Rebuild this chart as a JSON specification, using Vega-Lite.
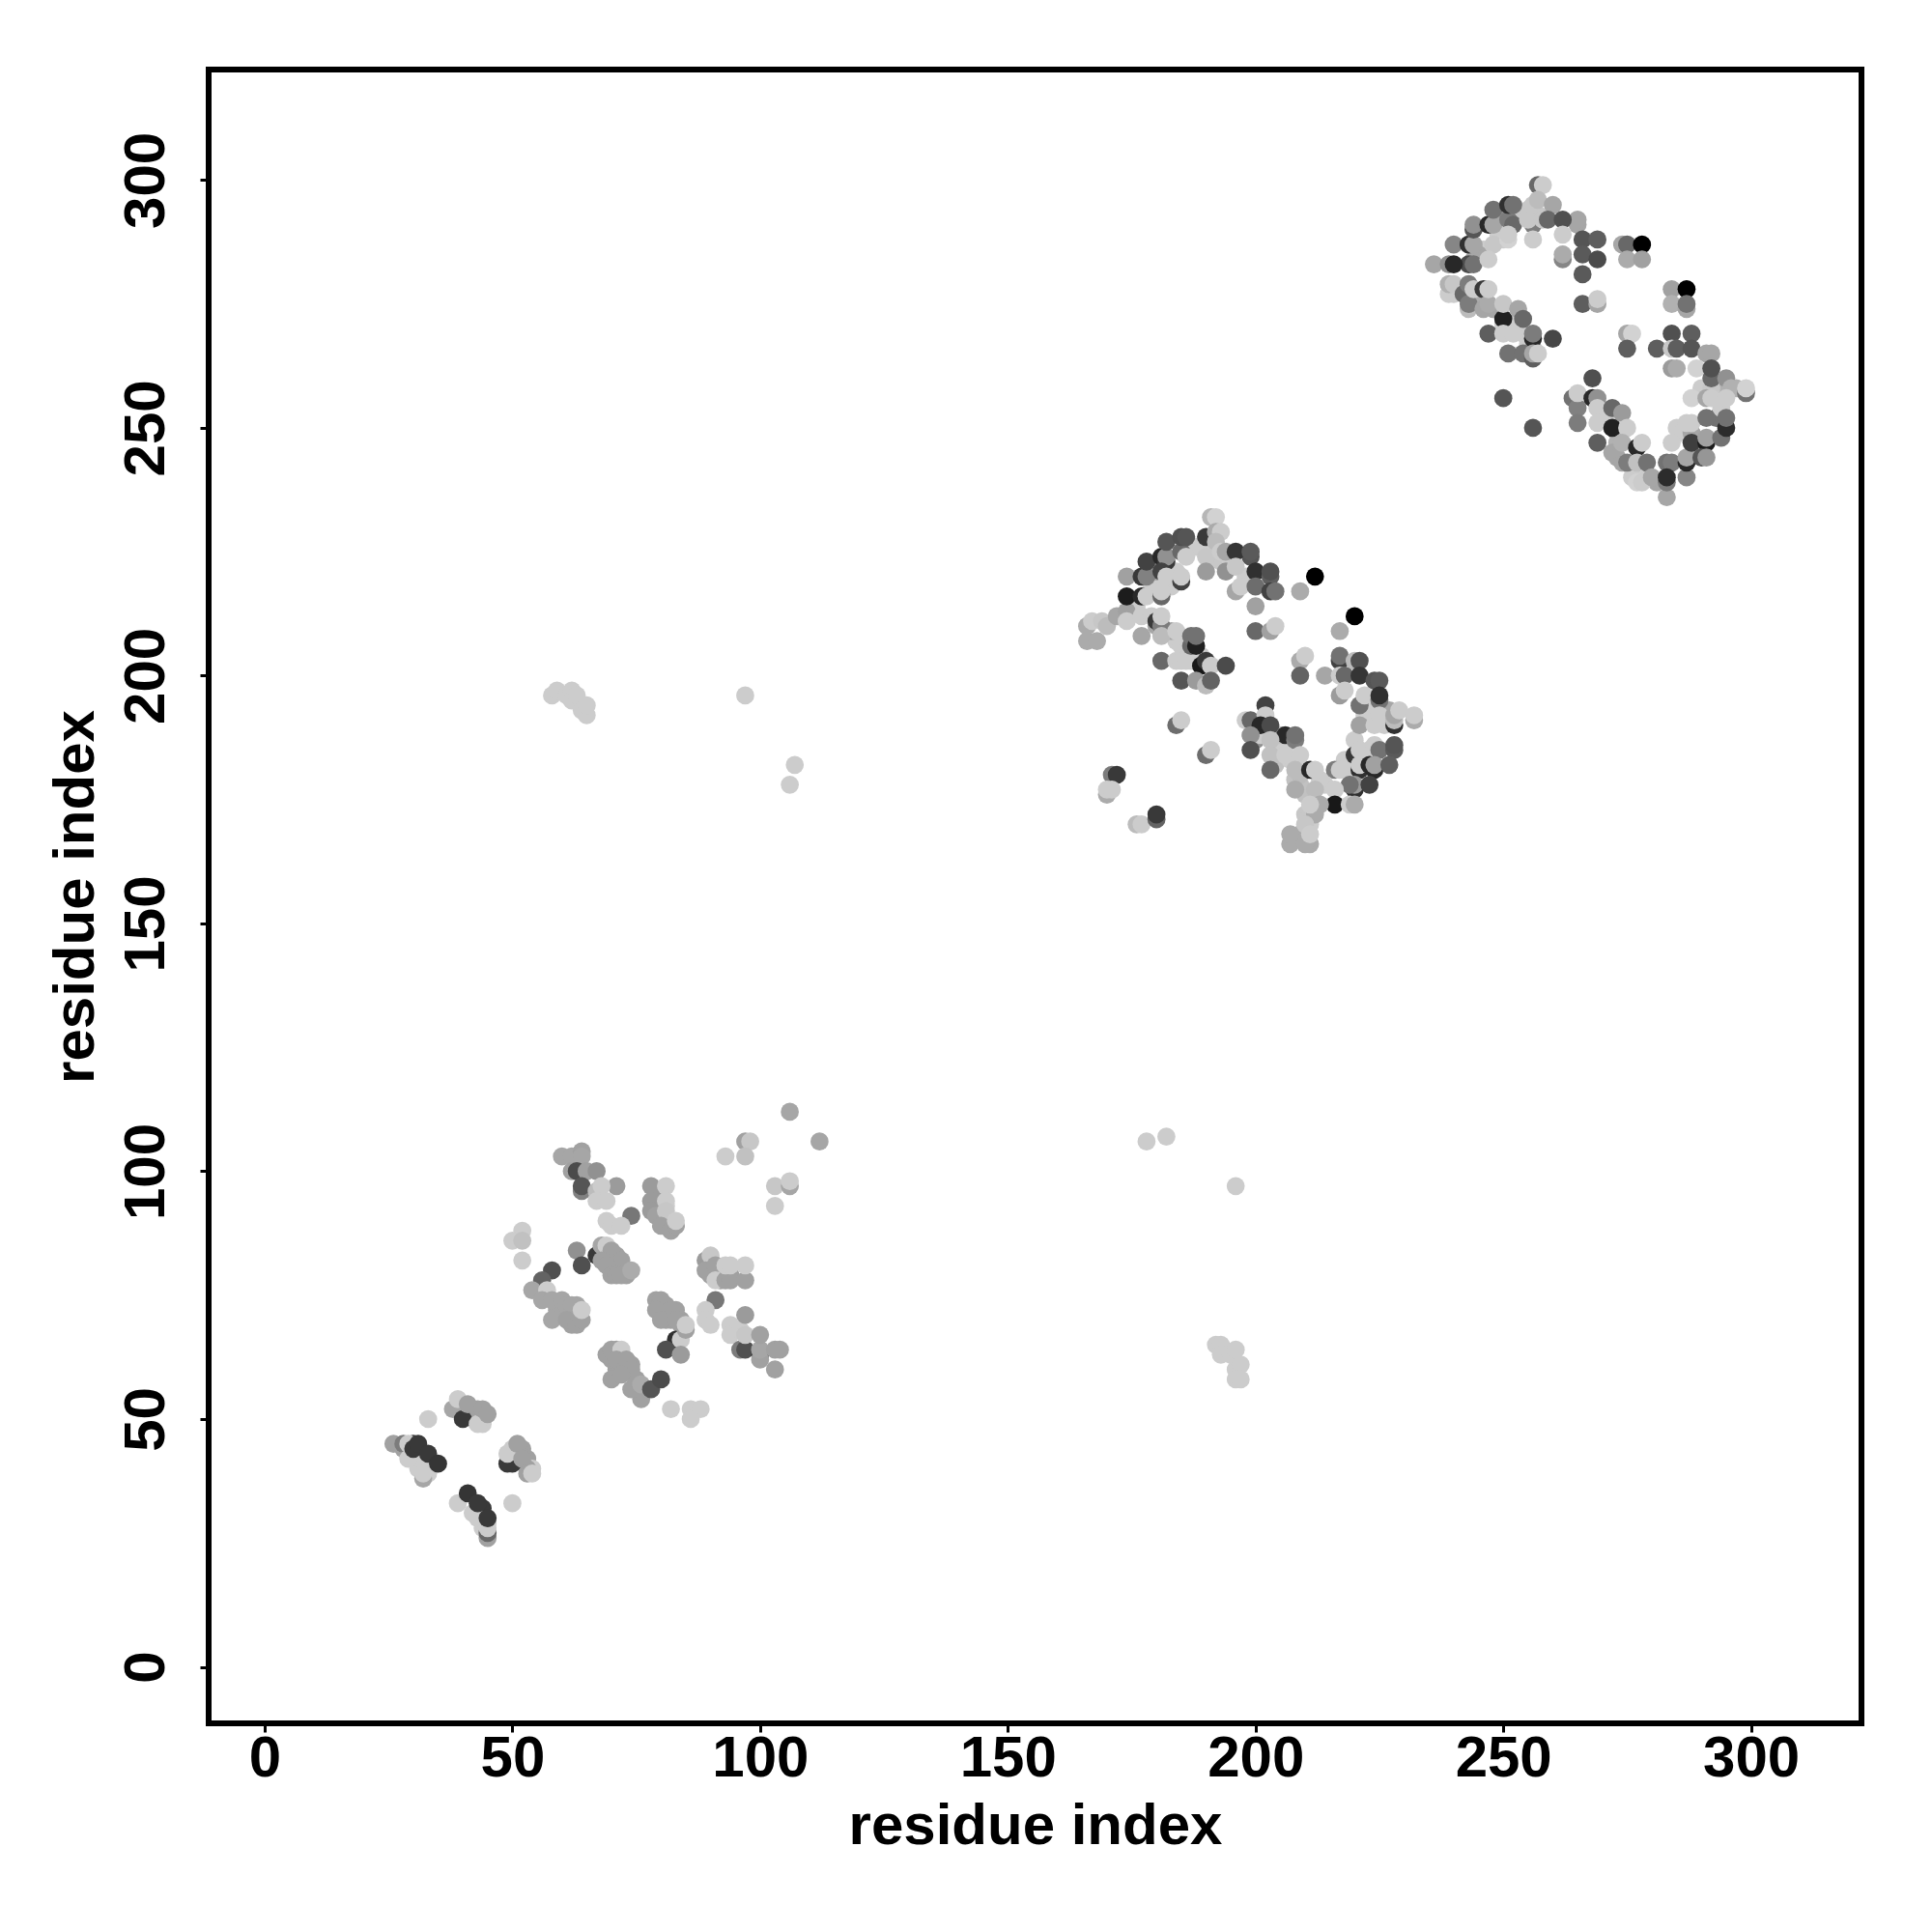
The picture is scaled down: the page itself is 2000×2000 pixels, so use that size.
{"$schema":"https://vega.github.io/schema/vega-lite/v6.json","width":1711,"height":1712,"autosize":"none","padding":{"left":216,"top":72,"right":73,"bottom":216},"background":"white","view":{"stroke":"black","strokeWidth":6,"fill":"white"},"config":{"font":"Liberation Sans"},
"data":{"values":[
{"x":39,"y":53,"g":205},{"x":40,"y":53,"g":205},{"x":39,"y":52,"g":170},{"x":41,"y":51,"g":205},{"x":42,"y":50,"g":205},{"x":43,"y":50,"g":205},{"x":44,"y":49,"g":205},{"x":42,"y":52,"g":165},{"x":43,"y":52,"g":165},
{"x":42,"y":31,"g":205},{"x":44,"y":29,"g":205},{"x":44,"y":31,"g":205},{"x":44,"y":32,"g":60},{"x":45,"y":29,"g":205},{"x":44,"y":28,"g":205},
{"x":29,"y":44,"g":205},{"x":30,"y":42,"g":205},{"x":31,"y":41,"g":205},{"x":31,"y":40,"g":205},{"x":33,"y":39,"g":205},{"x":32,"y":41,"g":205},{"x":28,"y":44,"g":165},{"x":30,"y":45,"g":60},
{"x":50,"y":44,"g":205},{"x":51,"y":43,"g":205},{"x":52,"y":44,"g":165},{"x":52,"y":43,"g":165},{"x":53,"y":41,"g":165},{"x":53,"y":42,"g":165},{"x":54,"y":40,"g":205},{"x":53,"y":40,"g":165},{"x":50,"y":42,"g":205},{"x":50,"y":41,"g":60},
{"x":79,"y":93,"g":165},{"x":79,"y":95,"g":160},{"x":80,"y":91,"g":165},{"x":81,"y":90,"g":165},{"x":82,"y":89,"g":165},{"x":80,"y":93,"g":205},{"x":81,"y":93,"g":205},{"x":81,"y":91,"g":165},
{"x":71,"y":60,"g":165},{"x":72,"y":61,"g":165},{"x":73,"y":60,"g":165},{"x":72,"y":63,"g":165},{"x":71,"y":64,"g":165},{"x":70,"y":62,"g":165},{"x":74,"y":61,"g":165},{"x":75,"y":58,"g":165},{"x":75,"y":56,"g":165},
{"x":81,"y":73,"g":165},{"x":81,"y":71,"g":165},{"x":82,"y":70,"g":165},{"x":84,"y":70,"g":165},{"x":84,"y":69,"g":165},{"x":81,"y":70,"g":165},{"x":83,"y":72,"g":165},
{"x":69,"y":83,"g":165},{"x":70,"y":82,"g":165},{"x":71,"y":83,"g":165},{"x":72,"y":81,"g":165},{"x":73,"y":80,"g":165},{"x":73,"y":79,"g":165},{"x":70,"y":81,"g":165},{"x":71,"y":81,"g":165},
{"x":59,"y":72,"g":170},{"x":60,"y":71,"g":170},{"x":62,"y":72,"g":170},{"x":63,"y":71,"g":170},{"x":61,"y":72,"g":170},{"x":62,"y":69,"g":165},{"x":63,"y":73,"g":170},{"x":59,"y":73,"g":170},
{"x":92,"y":78,"g":165},{"x":92,"y":80,"g":205},{"x":90,"y":79,"g":165},{"x":92,"y":79,"g":165},{"x":94,"y":79,"g":165},
{"x":204,"y":187,"g":195},{"x":204,"y":184,"g":205},{"x":205,"y":186,"g":205},{"x":204,"y":182,"g":195},{"x":208,"y":179,"g":195},{"x":209,"y":178,"g":195},{"x":210,"y":176,"g":195},{"x":209,"y":180,"g":190},{"x":210,"y":172,"g":200},{"x":211,"y":172,"g":200},{"x":211,"y":170,"g":205},{"x":211,"y":166,"g":175},{"x":209,"y":168,"g":175},
{"x":240,"y":277,"g":205},{"x":241,"y":278,"g":190},{"x":244,"y":276,"g":170},{"x":245,"y":275,"g":175},{"x":248,"y":274,"g":170},{"x":250,"y":271,"g":205},{"x":252,"y":271,"g":205},{"x":253,"y":270,"g":205},{"x":254,"y":269,"g":205},{"x":255,"y":267,"g":205},{"x":256,"y":266,"g":170},{"x":273,"y":247,"g":180},{"x":273,"y":249,"g":180},{"x":271,"y":252,"g":205},{"x":270,"y":253,"g":205},{"x":272,"y":245,"g":170},{"x":273,"y":244,"g":170},{"x":276,"y":242,"g":195},{"x":276,"y":240,"g":205},{"x":279,"y":240,"g":205},{"x":281,"y":239,"g":170},{"x":249,"y":289,"g":205},{"x":250,"y":288,"g":205},{"x":246,"y":286,"g":205},{"x":245,"y":285,"g":170},{"x":244,"y":284,"g":170},{"x":249,"y":293,"g":170},{"x":253,"y":293,"g":130},{"x":254,"y":293,"g":200},{"x":255,"y":294,"g":200},{"x":257,"y":293,"g":200},{"x":285,"y":250,"g":205},{"x":286,"y":249,"g":205},{"x":288,"y":249,"g":170},{"x":289,"y":246,"g":170},{"x":293,"y":252,"g":120},{"x":294,"y":254,"g":205},{"x":293,"y":256,"g":205},{"x":290,"y":258,"g":205},{"x":290,"y":257,"g":205},{"x":294,"y":257,"g":180},{"x":297,"y":258,"g":180},{"x":295,"y":258,"g":180},
{"x":187,"y":203,"g":205},{"x":188,"y":204,"g":205},{"x":189,"y":204,"g":205},{"x":184,"y":207,"g":205},{"x":185,"y":206,"g":205},{"x":186,"y":205,"g":205},{"x":183,"y":209,"g":170},{"x":180,"y":210,"g":170},{"x":176,"y":214,"g":205},{"x":175,"y":215,"g":205},{"x":179,"y":218,"g":205},{"x":180,"y":218,"g":205},{"x":183,"y":218,"g":205},{"x":184,"y":221,"g":205},{"x":180,"y":221,"g":170},{"x":188,"y":226,"g":205},{"x":191,"y":225,"g":205},{"x":192,"y":224,"g":200},{"x":193,"y":223,"g":200},{"x":195,"y":223,"g":205},{"x":198,"y":219,"g":205},{"x":198,"y":220,"g":205},{"x":220,"y":187,"g":205},{"x":222,"y":184,"g":205},{"x":223,"y":185,"g":205},{"x":219,"y":181,"g":205},{"x":218,"y":183,"g":205},{"x":226,"y":192,"g":205},{"x":227,"y":191,"g":205},{"x":226,"y":190,"g":205},{"x":227,"y":193,"g":170},{"x":223,"y":193,"g":205},{"x":222,"y":192,"g":205},{"x":214,"y":178,"g":205},{"x":213,"y":179,"g":205},{"x":206,"y":186,"g":205},{"x":207,"y":183,"g":205},{"x":200,"y":187,"g":150},{"x":201,"y":188,"g":205},{"x":200,"y":190,"g":205},{"x":204,"y":188,"g":195},{"x":205,"y":188,"g":195},
{"x":236,"y":283,"g":170},{"x":239,"y":283,"g":150},{"x":243,"y":283,"g":80},{"x":244,"y":283,"g":120},{"x":240,"y":283,"g":40},{"x":240,"y":287,"g":140},{"x":243,"y":287,"g":50},{"x":244,"y":287,"g":170},{"x":244,"y":290,"g":90},{"x":244,"y":291,"g":150},{"x":247,"y":291,"g":40},{"x":248,"y":291,"g":170},{"x":248,"y":294,"g":120},{"x":251,"y":292,"g":130},{"x":252,"y":291,"g":110},{"x":251,"y":295,"g":50},{"x":252,"y":295,"g":120},{"x":248,"y":287,"g":200},{"x":251,"y":288,"g":210},{"x":251,"y":289,"g":205},{"x":247,"y":284,"g":205},
{"x":257,"y":299,"g":110},{"x":258,"y":299,"g":205},{"x":256,"y":291,"g":130},{"x":256,"y":288,"g":205},{"x":255,"y":292,"g":200},{"x":256,"y":295,"g":200},{"x":257,"y":296,"g":190},{"x":260,"y":295,"g":170},{"x":258,"y":292,"g":200},{"x":259,"y":292,"g":110},{"x":265,"y":291,"g":170},{"x":265,"y":292,"g":170},{"x":262,"y":292,"g":85},{"x":262,"y":289,"g":205},{"x":262,"y":284,"g":140},{"x":262,"y":285,"g":175},{"x":266,"y":288,"g":90},{"x":269,"y":288,"g":100},{"x":266,"y":281,"g":95},{"x":266,"y":285,"g":95},{"x":269,"y":284,"g":80},{"x":266,"y":275,"g":100},{"x":269,"y":275,"g":170},{"x":269,"y":276,"g":205},
{"x":274,"y":287,"g":170},{"x":275,"y":287,"g":110},{"x":278,"y":287,"g":0},{"x":275,"y":284,"g":175},{"x":278,"y":284,"g":165},{"x":284,"y":278,"g":165},{"x":287,"y":278,"g":0},{"x":284,"y":275,"g":180},{"x":287,"y":274,"g":170},{"x":287,"y":275,"g":120},{"x":275,"y":269,"g":170},{"x":276,"y":269,"g":210},{"x":275,"y":266,"g":100},{"x":284,"y":269,"g":85},{"x":288,"y":269,"g":100},{"x":281,"y":266,"g":100},{"x":284,"y":266,"g":200},{"x":285,"y":266,"g":100},{"x":288,"y":266,"g":90},{"x":291,"y":265,"g":170},{"x":292,"y":265,"g":170},{"x":284,"y":262,"g":160},{"x":285,"y":262,"g":175},{"x":289,"y":262,"g":210},{"x":292,"y":258,"g":200},{"x":292,"y":260,"g":110},{"x":292,"y":262,"g":85},{"x":295,"y":260,"g":150},{"x":296,"y":258,"g":180},{"x":299,"y":257,"g":120},{"x":299,"y":258,"g":210},{"x":288,"y":256,"g":210},{"x":291,"y":256,"g":170},{"x":292,"y":256,"g":205},{"x":295,"y":256,"g":205},
{"x":268,"y":260,"g":85},{"x":264,"y":256,"g":120},{"x":265,"y":254,"g":135},{"x":265,"y":257,"g":205},{"x":268,"y":256,"g":40},{"x":269,"y":256,"g":150},{"x":265,"y":251,"g":130},{"x":269,"y":254,"g":205},{"x":269,"y":251,"g":205},{"x":272,"y":254,"g":110},{"x":274,"y":253,"g":160},{"x":272,"y":250,"g":30},{"x":275,"y":250,"g":205},{"x":269,"y":247,"g":100},{"x":274,"y":247,"g":180},{"x":277,"y":246,"g":40},{"x":278,"y":247,"g":205},{"x":274,"y":243,"g":170},{"x":275,"y":243,"g":130},{"x":277,"y":243,"g":195},{"x":279,"y":243,"g":120},{"x":277,"y":239,"g":210},{"x":278,"y":239,"g":205},{"x":280,"y":240,"g":170},{"x":283,"y":236,"g":170},{"x":283,"y":243,"g":120},{"x":284,"y":243,"g":130},{"x":284,"y":247,"g":205},{"x":283,"y":239,"g":130},{"x":283,"y":240,"g":45},{"x":287,"y":240,"g":140},{"x":287,"y":243,"g":40},{"x":287,"y":244,"g":170},{"x":288,"y":247,"g":65},{"x":291,"y":247,"g":25},{"x":291,"y":248,"g":165},{"x":290,"y":244,"g":90},{"x":291,"y":244,"g":155},{"x":294,"y":248,"g":120},{"x":287,"y":251,"g":205},{"x":288,"y":251,"g":205},{"x":291,"y":252,"g":120},{"x":295,"y":250,"g":45},{"x":295,"y":252,"g":120},
{"x":239,"y":277,"g":205},{"x":239,"y":279,"g":180},{"x":240,"y":279,"g":200},{"x":242,"y":277,"g":110},{"x":243,"y":279,"g":130},{"x":243,"y":274,"g":190},{"x":243,"y":275,"g":130},{"x":244,"y":278,"g":205},{"x":246,"y":278,"g":60},{"x":246,"y":274,"g":170},{"x":247,"y":275,"g":175},{"x":247,"y":278,"g":205},{"x":250,"y":272,"g":30},{"x":250,"y":275,"g":200},{"x":253,"y":274,"g":170},{"x":254,"y":272,"g":110},{"x":247,"y":269,"g":100},{"x":250,"y":269,"g":205},{"x":252,"y":269,"g":205},{"x":256,"y":268,"g":40},{"x":256,"y":269,"g":130},{"x":260,"y":268,"g":75},{"x":251,"y":265,"g":120},{"x":254,"y":265,"g":120},{"x":256,"y":264,"g":100},{"x":256,"y":265,"g":170},{"x":257,"y":265,"g":205},{"x":250,"y":256,"g":90},{"x":256,"y":250,"g":90},
{"x":191,"y":232,"g":185},{"x":192,"y":232,"g":210},{"x":190,"y":228,"g":60},{"x":192,"y":229,"g":175},{"x":193,"y":229,"g":205},{"x":192,"y":227,"g":190},{"x":190,"y":224,"g":200},{"x":193,"y":225,"g":205},{"x":194,"y":225,"g":170},{"x":199,"y":224,"g":90},{"x":196,"y":225,"g":55},{"x":199,"y":225,"g":95},{"x":190,"y":221,"g":160},{"x":194,"y":221,"g":150},{"x":196,"y":222,"g":200},{"x":200,"y":221,"g":50},{"x":203,"y":220,"g":100},{"x":203,"y":221,"g":85},{"x":196,"y":217,"g":170},{"x":197,"y":218,"g":205},{"x":200,"y":218,"g":115},{"x":203,"y":217,"g":70},{"x":204,"y":217,"g":120},{"x":200,"y":214,"g":165},{"x":209,"y":217,"g":175},{"x":212,"y":220,"g":0},{"x":200,"y":209,"g":110},{"x":203,"y":209,"g":165},{"x":204,"y":210,"g":205},
{"x":217,"y":209,"g":175},{"x":220,"y":212,"g":0},{"x":209,"y":203,"g":175},{"x":210,"y":204,"g":205},{"x":209,"y":200,"g":105},{"x":217,"y":203,"g":70},{"x":217,"y":204,"g":120},{"x":220,"y":203,"g":190},{"x":221,"y":203,"g":85},{"x":214,"y":200,"g":170},{"x":217,"y":200,"g":205},{"x":218,"y":200,"g":110},{"x":221,"y":200,"g":55},{"x":224,"y":199,"g":90},{"x":225,"y":199,"g":95},{"x":217,"y":196,"g":160},{"x":218,"y":197,"g":205},{"x":221,"y":194,"g":120},{"x":222,"y":196,"g":205},{"x":225,"y":195,"g":120},{"x":225,"y":196,"g":50},{"x":221,"y":190,"g":165},{"x":224,"y":190,"g":205},{"x":225,"y":192,"g":205},{"x":228,"y":190,"g":50},{"x":228,"y":191,"g":190},{"x":228,"y":192,"g":170},{"x":229,"y":193,"g":205},{"x":232,"y":191,"g":175},{"x":232,"y":192,"g":205},
{"x":202,"y":194,"g":70},{"x":198,"y":191,"g":205},{"x":199,"y":191,"g":110},{"x":202,"y":192,"g":205},{"x":201,"y":190,"g":40},{"x":203,"y":190,"g":80},{"x":199,"y":188,"g":150},{"x":199,"y":185,"g":85},{"x":206,"y":188,"g":40},{"x":208,"y":187,"g":130},{"x":208,"y":188,"g":120},{"x":203,"y":187,"g":195},{"x":203,"y":184,"g":195},{"x":206,"y":184,"g":205},{"x":209,"y":184,"g":205},{"x":203,"y":181,"g":110},{"x":208,"y":181,"g":190},{"x":211,"y":181,"g":40},{"x":212,"y":181,"g":205},{"x":208,"y":177,"g":175},{"x":212,"y":177,"g":190},{"x":216,"y":181,"g":130},{"x":217,"y":181,"g":205},{"x":220,"y":184,"g":60},{"x":221,"y":185,"g":205},{"x":224,"y":186,"g":205},{"x":225,"y":185,"g":120},{"x":228,"y":185,"g":95},{"x":228,"y":186,"g":90},{"x":221,"y":181,"g":50},{"x":221,"y":182,"g":205},{"x":224,"y":181,"g":40},{"x":223,"y":182,"g":40},{"x":224,"y":182,"g":165},{"x":227,"y":182,"g":100},{"x":220,"y":177,"g":50},{"x":220,"y":178,"g":160},{"x":223,"y":178,"g":70},{"x":219,"y":178,"g":120},{"x":216,"y":177,"g":205},{"x":216,"y":174,"g":20},{"x":219,"y":174,"g":205},{"x":220,"y":174,"g":175},{"x":213,"y":174,"g":175},{"x":212,"y":172,"g":175},{"x":211,"y":174,"g":205},{"x":210,"y":170,"g":200},{"x":207,"y":166,"g":175},{"x":207,"y":168,"g":175},{"x":210,"y":166,"g":175},{"x":211,"y":168,"g":205},
{"x":166,"y":207,"g":175},{"x":168,"y":207,"g":175},{"x":166,"y":210,"g":175},{"x":167,"y":211,"g":205},{"x":169,"y":211,"g":200},{"x":170,"y":210,"g":190},{"x":172,"y":212,"g":170},{"x":174,"y":213,"g":165},{"x":174,"y":211,"g":205},{"x":174,"y":216,"g":25},{"x":174,"y":220,"g":165},{"x":177,"y":208,"g":170},{"x":177,"y":212,"g":205},{"x":177,"y":216,"g":40},{"x":178,"y":216,"g":205},{"x":177,"y":220,"g":60},{"x":178,"y":220,"g":135},{"x":178,"y":223,"g":70},{"x":181,"y":224,"g":40},{"x":182,"y":223,"g":60},{"x":182,"y":224,"g":150},{"x":181,"y":221,"g":70},{"x":182,"y":220,"g":205},{"x":185,"y":219,"g":70},{"x":185,"y":220,"g":205},{"x":185,"y":225,"g":110},{"x":186,"y":224,"g":205},{"x":182,"y":227,"g":90},{"x":185,"y":228,"g":85},{"x":186,"y":228,"g":90},{"x":181,"y":216,"g":110},{"x":181,"y":217,"g":205},
{"x":179,"y":212,"g":205},{"x":180,"y":211,"g":60},{"x":181,"y":210,"g":130},{"x":181,"y":212,"g":205},{"x":181,"y":208,"g":190},{"x":181,"y":203,"g":110},{"x":184,"y":209,"g":205},{"x":184,"y":203,"g":205},{"x":185,"y":203,"g":205},{"x":186,"y":203,"g":205},{"x":187,"y":206,"g":110},{"x":187,"y":208,"g":120},{"x":188,"y":206,"g":30},{"x":188,"y":208,"g":120},{"x":189,"y":202,"g":20},{"x":190,"y":203,"g":60},{"x":191,"y":202,"g":205},{"x":194,"y":202,"g":80},{"x":185,"y":199,"g":90},{"x":188,"y":199,"g":160},{"x":190,"y":198,"g":190},{"x":191,"y":199,"g":105},{"x":184,"y":190,"g":115},{"x":185,"y":191,"g":205},{"x":190,"y":184,"g":115},{"x":191,"y":185,"g":205},{"x":171,"y":180,"g":130},{"x":172,"y":180,"g":60},{"x":170,"y":176,"g":175},{"x":170,"y":177,"g":205},{"x":171,"y":177,"g":205},{"x":176,"y":170,"g":190},{"x":177,"y":170,"g":205},{"x":180,"y":171,"g":105},{"x":180,"y":172,"g":60},
{"x":106,"y":112,"g":170},{"x":112,"y":106,"g":170},{"x":97,"y":106,"g":165},{"x":98,"y":106,"g":200},{"x":93,"y":103,"g":205},{"x":97,"y":103,"g":195},{"x":103,"y":97,"g":200},{"x":106,"y":97,"g":170},{"x":106,"y":98,"g":205},{"x":103,"y":93,"g":205},
{"x":60,"y":103,"g":170},{"x":62,"y":103,"g":170},{"x":64,"y":104,"g":165},{"x":64,"y":103,"g":170},{"x":62,"y":100,"g":165},{"x":63,"y":100,"g":80},{"x":65,"y":100,"g":165},{"x":67,"y":100,"g":150},{"x":64,"y":96,"g":135},{"x":64,"y":97,"g":90},{"x":71,"y":97,"g":160},{"x":67,"y":96,"g":190},{"x":68,"y":97,"g":205},{"x":67,"y":94,"g":205},{"x":69,"y":94,"g":205},{"x":74,"y":91,"g":125},{"x":69,"y":90,"g":205},{"x":70,"y":89,"g":205},{"x":72,"y":89,"g":205},
{"x":78,"y":97,"g":160},{"x":81,"y":97,"g":205},{"x":78,"y":94,"g":160},{"x":81,"y":94,"g":205},{"x":78,"y":92,"g":160},{"x":79,"y":91,"g":165},{"x":81,"y":92,"g":200},{"x":80,"y":89,"g":165},{"x":82,"y":88,"g":165},{"x":83,"y":89,"g":165},{"x":83,"y":90,"g":205},
{"x":52,"y":88,"g":205},{"x":50,"y":86,"g":205},{"x":52,"y":86,"g":195},{"x":52,"y":82,"g":205},
{"x":63,"y":84,"g":150},{"x":67,"y":83,"g":60},{"x":68,"y":85,"g":170},{"x":69,"y":85,"g":205},{"x":70,"y":84,"g":165},{"x":68,"y":82,"g":165},{"x":72,"y":82,"g":165},{"x":69,"y":81,"g":165},{"x":70,"y":79,"g":165},{"x":71,"y":79,"g":165},{"x":72,"y":79,"g":165},{"x":74,"y":80,"g":175},{"x":64,"y":81,"g":85},
{"x":58,"y":80,"g":85},{"x":56,"y":78,"g":105},{"x":54,"y":76,"g":170},{"x":57,"y":76,"g":205},{"x":56,"y":74,"g":170},{"x":58,"y":74,"g":170},{"x":60,"y":74,"g":170},{"x":61,"y":73,"g":170},{"x":62,"y":73,"g":170},{"x":58,"y":70,"g":170},{"x":61,"y":70,"g":165},{"x":63,"y":69,"g":165},{"x":64,"y":70,"g":165},{"x":64,"y":72,"g":205},
{"x":89,"y":82,"g":160},{"x":90,"y":83,"g":200},{"x":89,"y":80,"g":165},{"x":91,"y":81,"g":165},{"x":91,"y":78,"g":205},{"x":93,"y":78,"g":165},{"x":94,"y":78,"g":165},{"x":97,"y":78,"g":165},{"x":93,"y":81,"g":205},{"x":94,"y":81,"g":205},{"x":97,"y":81,"g":205},
{"x":91,"y":74,"g":125},{"x":89,"y":72,"g":205},{"x":89,"y":70,"g":205},{"x":90,"y":69,"g":205},{"x":94,"y":69,"g":205},{"x":94,"y":67,"g":205},{"x":96,"y":64,"g":130},{"x":97,"y":64,"g":85},{"x":96,"y":68,"g":205},{"x":97,"y":67,"g":200},{"x":97,"y":71,"g":160},{"x":100,"y":63,"g":70},{"x":100,"y":62,"g":165},{"x":100,"y":64,"g":170},{"x":100,"y":67,"g":165},{"x":103,"y":60,"g":165},{"x":103,"y":64,"g":165},{"x":104,"y":64,"g":165},
{"x":79,"y":74,"g":165},{"x":80,"y":74,"g":165},{"x":79,"y":72,"g":165},{"x":82,"y":72,"g":165},{"x":80,"y":70,"g":165},{"x":83,"y":70,"g":165},{"x":83,"y":66,"g":50},{"x":84,"y":66,"g":205},{"x":85,"y":68,"g":165},{"x":85,"y":69,"g":205},{"x":81,"y":64,"g":85},{"x":84,"y":63,"g":160},
{"x":69,"y":63,"g":165},{"x":70,"y":64,"g":165},{"x":72,"y":64,"g":205},{"x":71,"y":62,"g":165},{"x":73,"y":62,"g":165},{"x":74,"y":60,"g":165},{"x":70,"y":58,"g":165},{"x":72,"y":59,"g":165},{"x":76,"y":54,"g":165},{"x":74,"y":56,"g":165},{"x":76,"y":57,"g":175},{"x":78,"y":56,"g":90},{"x":80,"y":58,"g":80},{"x":82,"y":52,"g":205},{"x":86,"y":52,"g":205},{"x":88,"y":52,"g":205},{"x":86,"y":50,"g":205},
{"x":33,"y":50,"g":205},{"x":26,"y":45,"g":165},{"x":28,"y":45,"g":130},{"x":29,"y":45,"g":205},{"x":29,"y":42,"g":205},{"x":32,"y":38,"g":170},{"x":32,"y":39,"g":205},{"x":30,"y":44,"g":60},{"x":31,"y":45,"g":60},{"x":33,"y":43,"g":60},{"x":35,"y":41,"g":55},
{"x":38,"y":52,"g":170},{"x":39,"y":54,"g":205},{"x":40,"y":50,"g":60},{"x":43,"y":49,"g":205},{"x":41,"y":53,"g":165},{"x":44,"y":52,"g":165},{"x":45,"y":51,"g":165},
{"x":49,"y":41,"g":60},{"x":49,"y":43,"g":205},{"x":51,"y":45,"g":165},{"x":52,"y":42,"g":165},{"x":53,"y":39,"g":165},{"x":54,"y":39,"g":205},{"x":50,"y":33,"g":205},
{"x":39,"y":33,"g":205},{"x":41,"y":35,"g":55},{"x":43,"y":30,"g":205},{"x":43,"y":33,"g":60},{"x":45,"y":26,"g":165},{"x":45,"y":27,"g":110},{"x":45,"y":28,"g":205},{"x":45,"y":30,"g":60},
{"x":58,"y":196,"g":205},{"x":59,"y":197,"g":205},{"x":61,"y":196,"g":205},{"x":62,"y":197,"g":205},{"x":62,"y":195,"g":205},{"x":63,"y":196,"g":205},{"x":64,"y":193,"g":205},{"x":65,"y":192,"g":205},{"x":65,"y":194,"g":205},{"x":97,"y":196,"g":205},{"x":107,"y":182,"g":205},{"x":106,"y":178,"g":205},{"x":178,"y":106,"g":205},{"x":182,"y":107,"g":205},{"x":196,"y":97,"g":205},{"x":192,"y":65,"g":205},{"x":193,"y":65,"g":205},{"x":193,"y":63,"g":205},{"x":195,"y":63,"g":205},{"x":196,"y":64,"g":205},{"x":196,"y":60,"g":205},{"x":197,"y":61,"g":205},{"x":196,"y":58,"g":205},{"x":197,"y":58,"g":205}
]},
"mark":{"type":"circle","opacity":1,"size":350},
"encoding":{
"x":{"field":"x","type":"quantitative","scale":{"domain":[-11.3,322.3],"nice":false,"zero":false},"axis":{"values":[0,50,100,150,200,250,300],"title":"residue index","grid":false,"domain":false,"ticks":true,"tickColor":"black","tickSize":9,"tickWidth":3,"labelFont":"Liberation Sans","labelFontWeight":"bold","labelFontSize":60,"labelColor":"black","labelPadding":-2,"titleFont":"Liberation Sans","titleFontWeight":"bold","titleFontSize":60,"titleColor":"black","titlePadding":11}},
"y":{"field":"y","type":"quantitative","scale":{"domain":[-11.4,322.3],"nice":false,"zero":false},"axis":{"values":[0,50,100,150,200,250,300],"title":"residue index","grid":false,"domain":false,"ticks":true,"tickColor":"black","tickSize":9,"tickWidth":3,"labelFont":"Liberation Sans","labelFontWeight":"bold","labelFontSize":60,"labelColor":"black","labelAngle":-90,"labelAlign":"center","labelBaseline":"bottom","labelPadding":25,"titleFont":"Liberation Sans","titleFontWeight":"bold","titleFontSize":60,"titleColor":"black","titlePadding":12}},
"color":{"field":"g","type":"quantitative","legend":null,"scale":{"domain":[0,211],"range":["#000000","#d3d3d3"]}}
}}
